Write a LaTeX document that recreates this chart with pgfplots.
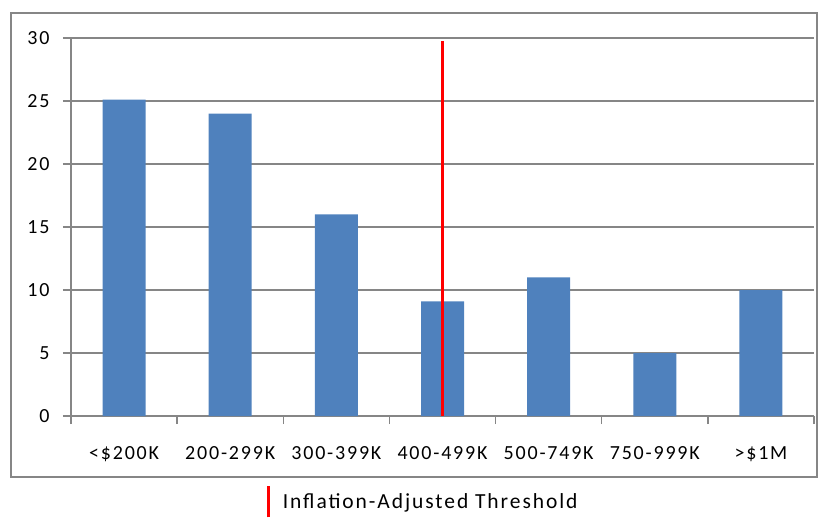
\documentclass[border=0pt]{standalone}
\usepackage{pgfplots}
\pgfplotsset{compat=1.18}
\usepackage{fontspec}
\setmainfont{Carlito}[LetterSpace=9]
\definecolor{barblue}{HTML}{4F81BD}
\definecolor{axgray}{HTML}{868686}
\begin{document}
\begin{tikzpicture}
\begin{axis}[
  name=ax,
  scale only axis,
  width=743pt, height=378pt,
  xmin=-0.5, xmax=6.5,
  ymin=0, ymax=30,
  ytick={0,5,...,30},
  xtick={0,...,6},
  xticklabels={<\$200K,200-299K,300-399K,400-499K,500-749K,750-999K,>\$1M},
  minor xtick={-0.5,0.5,...,6.5},
  axis x line*=bottom,
  axis y line*=left,
  axis line style={axgray, line width=1.3pt, -},
  tick align=outside,
  major tick length=8pt,
  minor tick length=8pt,
  x tick style={draw=none},
  minor x tick style={draw=axgray, line width=1.3pt},
  y tick style={axgray, line width=1.3pt},
  ymajorgrids,
  grid style={axgray, line width=1.3pt},
  tick label style={font=\fontsize{20}{24}\selectfont, text=black},
  /pgf/number format/assume math mode=true,
  yticklabel style={xshift=-10pt},
  xticklabel style={yshift=-19pt},
  legend style={at={(0.474,-0.2275)}, anchor=center, draw=none,
    font=\fontsize{21.5}{24}\selectfont, legend cell align=left},
  clip=false,
]
\addplot[ybar, bar width=43pt, fill=barblue, draw=none, forget plot]
  coordinates {(0,25.1) (1,24) (2,16) (3,9.1) (4,11) (5,5) (6,10)};
\addplot[red, line width=3pt,
  legend image code/.code={%
    \path[draw=none] (0pt,0pt) -- (14pt,0pt);
    \draw[red, line width=3pt] (1.5pt,-15.5pt) -- (1.5pt,15.5pt);}]
  coordinates {(3,0) (3,29.8)};
\addlegendentry{Inflation-Adjusted Threshold}
\end{axis}
\draw[axgray, line width=1.5pt] ([shift={(-60pt,-61pt)}]ax.south west) rectangle ([shift={(3pt,25pt)}]ax.north east);
\pgfresetboundingbox
\path ([shift={(-71pt,-103pt)}]ax.south west) rectangle ([shift={(11pt,38pt)}]ax.north east);
\end{tikzpicture}
\end{document}
